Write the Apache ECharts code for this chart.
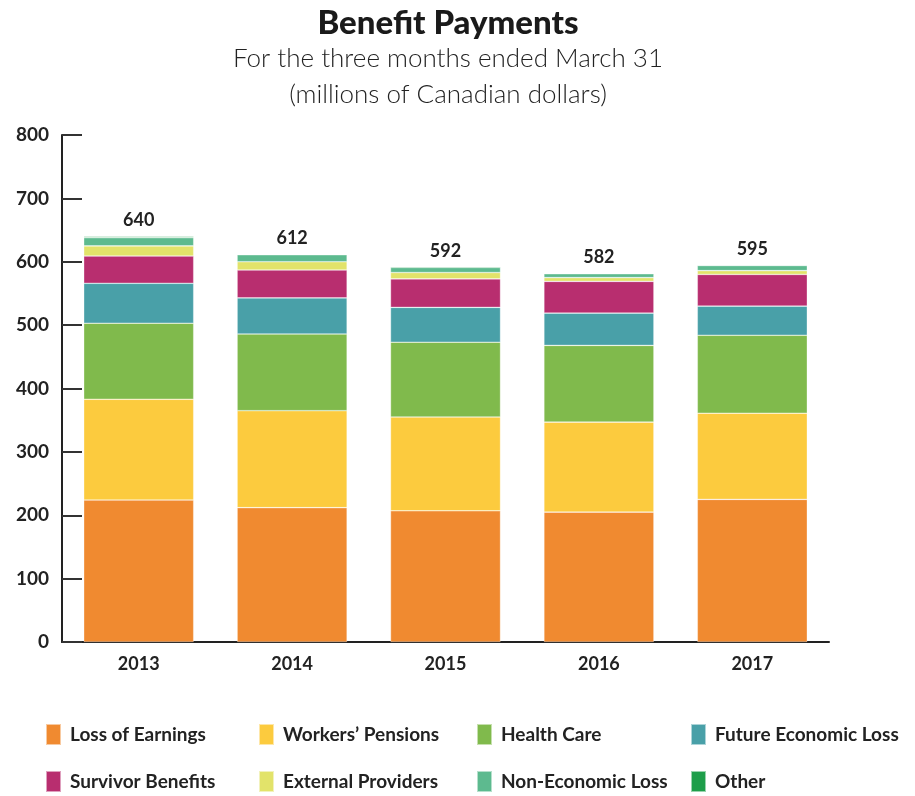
<!DOCTYPE html>
<html><head><meta charset="utf-8">
<script src="https://cdn.jsdelivr.net/npm/echarts@6/dist/echarts.min.js"></script>
<style>html,body{margin:0;padding:0;background:#fff}#c{width:915px;height:796px}</style>
</head><body><div id="c"></div>
<script>
const years = ['2013','2014','2015','2016','2017'];
const totals = [640, 612, 592, 582, 595];
const lossOfEarnings = [224, 212, 207, 205, 225];
const workersPensions = [159, 153, 148, 142, 136];
const healthCare = [120, 121, 118, 121, 123];
const futureEconomicLoss = [63, 57, 55, 51, 46];
const survivorBenefits = [43, 44, 45, 50, 50];
const externalProviders = [16, 13, 10, 6, 6];
const nonEconomicLoss = [13, 11, 8, 6, 8];
const other = [2, 1, 1, 1, 1];
const yTicks = [0,100,200,300,400,500,600,700,800];

const seriesDefs = [
  ['Loss of Earnings', lossOfEarnings, '#F08A30'],
  ['Workers\u2019 Pensions', workersPensions, '#FCCB3E'],
  ['Health Care', healthCare, '#80BA4C'],
  ['Future Economic Loss', futureEconomicLoss, '#49A0A8'],
  ['Survivor Benefits', survivorBenefits, '#B82E6F'],
  ['External Providers', externalProviders, '#E2E36A'],
  ['Non-Economic Loss', nonEconomicLoss, '#5DBA8F'],
  ['Other', other, '#1E9E4A']
];
const FONT = 'Lato';
const series = seriesDefs.map((d, i) => {
  const s = {
    name: d[0], type: 'bar', stack: 'total', data: d[1], barWidth: 110,
    itemStyle: { color: d[2], borderColor: 'rgba(255,255,255,0.55)', borderWidth: 0.6 },
    emphasis: { disabled: true }
  };
  if (i === seriesDefs.length - 1) {
    s.label = { show: true, position: 'top', distance: 7,
      formatter: p => String(totals[p.dataIndex]),
      fontFamily: FONT, fontWeight: 'bold', fontSize: 18, color: '#222' };
  }
  return s;
});
const legendLeft = [45, 258, 476, 690];
const legendTop = [723, 770];
const legends = seriesDefs.map((d, i) => ({
  data: [d[0]],
  left: legendLeft[i % 4], top: legendTop[Math.floor(i / 4)], padding: 0,
  itemWidth: 15, itemHeight: 21, icon: 'rect',
  selectedMode: false,
  textStyle: { fontFamily: FONT, fontWeight: 'bold', fontSize: 19, color: '#222', padding: [0,0,0,4] }
}));
const chart = echarts.init(document.getElementById('c'), null, {renderer: 'canvas'});
chart.setOption({
  animation: false,
  title: [
    { text: 'Benefit Payments', left: 443, textAlign: 'center', top: 2,
      textStyle: { fontFamily: FONT, fontWeight: 900, fontSize: 33, color: '#1a1a1a' } },
    { text: 'For the three months ended March 31\n(millions of Canadian dollars)', left: 443, textAlign: 'center', top: 36,
      textStyle: { fontFamily: FONT, fontWeight: 300, fontSize: 26, lineHeight: 36, color: '#222' } }
  ],
  legend: legends,
  grid: { left: 62, right: 86, top: 135, bottom: 154, containLabel: false },
  xAxis: { type: 'category', data: years,
    axisLine: { lineStyle: { color: '#222', width: 2 } },
    axisTick: { show: false },
    axisLabel: { fontFamily: FONT, fontWeight: 'bold', fontSize: 18, color: '#222', margin: 13 } },
  yAxis: { type: 'value', min: 0, max: 800, interval: 100,
    axisLine: { show: true, lineStyle: { color: '#222', width: 2 } },
    axisTick: { show: true, inside: true, length: 20, lineStyle: { color: '#333', width: 2 } },
    splitLine: { show: false },
    axisLabel: { fontFamily: FONT, fontWeight: 'bold', fontSize: 19, color: '#222', margin: 13,
      formatter: v => yTicks.includes(v) ? String(v) : '' } },
  series: series
});
</script></body></html>
